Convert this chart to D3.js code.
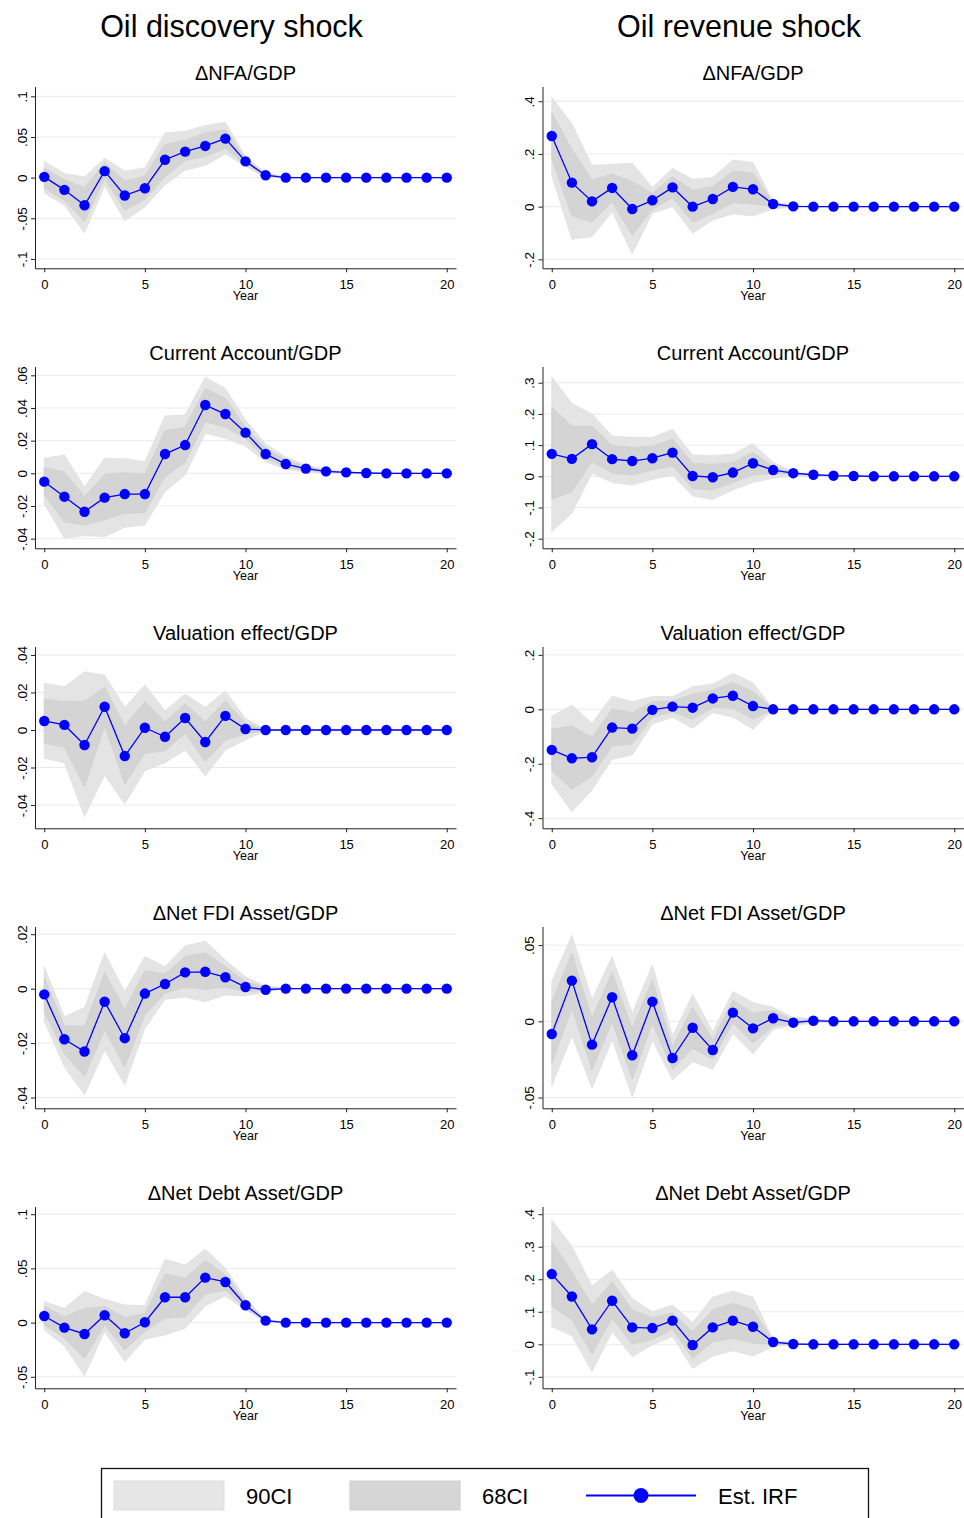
<!DOCTYPE html>
<html>
<head>
<meta charset="utf-8">
<script src="https://cdn.jsdelivr.net/npm/d3@7"></script>
<style>
  body { margin: 0; background: #fff; }
  svg { display: block; }
  text { font-family: "Liberation Sans", Arial, sans-serif; fill: #000; }
</style>
</head>
<body>
<svg id="chart" width="964" height="1518"></svg>
<script>
// ---------- data ----------
const years = [0, 1, 2, 3, 4, 5, 6, 7, 8, 9, 10, 11, 12, 13, 14, 15, 16, 17, 18, 19, 20];
const xTicks = [0, 5, 10, 15, 20];
const columnTitles = ["Oil discovery shock", "Oil revenue shock"];

// Oil discovery shock: ΔNFA/GDP
const discNfaTicks = [-0.1, -0.05, 0, 0.05, 0.1];
const discNfaDomain = [-0.1115, 0.1121];
const discNfaIrf = [0.001, -0.015, -0.034, 0.008, -0.022, -0.013, 0.022, 0.032, 0.039, 0.048, 0.020, 0.003, 0, 0, 0, 0, 0, 0, 0, 0, 0];
const discNfaHi90 = [0.020, 0.005, 0.001, 0.024, 0.008, 0.012, 0.055, 0.057, 0.064, 0.068, 0.026, 0.006, 0.001, 0, 0, 0, 0, 0, 0, 0, 0];
const discNfaLo90 = [-0.019, -0.034, -0.068, -0.010, -0.053, -0.036, -0.009, 0.009, 0.015, 0.029, 0.014, 0, -0.0004, 0, 0, 0, 0, 0, 0, 0, 0];
const discNfaHi68 = [0.012, -0.003, -0.012, 0.018, -0.004, 0.002, 0.041, 0.046, 0.055, 0.059, 0.023, 0.004, 0.0005, 0, 0, 0, 0, 0, 0, 0, 0];
const discNfaLo68 = [-0.013, -0.028, -0.054, -0.001, -0.040, -0.027, 0.001, 0.021, 0.026, 0.036, 0.016, 0.001, -0.0002, 0, 0, 0, 0, 0, 0, 0, 0];

// Oil revenue shock: ΔNFA/GDP
const revNfaTicks = [-0.2, 0, 0.2, 0.4];
const revNfaDomain = [-0.234, 0.456];
const revNfaIrf = [0.268, 0.091, 0.020, 0.071, -0.009, 0.024, 0.073, 0.000, 0.029, 0.075, 0.066, 0.010, 0.001, 0, 0, 0, 0, 0, 0, 0, 0];
const revNfaHi90 = [0.415, 0.316, 0.157, 0.161, 0.165, 0.073, 0.146, 0.104, 0.111, 0.177, 0.168, 0.019, 0.005, 0.001, 0, 0, 0, 0, 0, 0, 0];
const revNfaLo90 = [0.116, -0.124, -0.114, -0.019, -0.180, -0.025, 0.000, -0.101, -0.051, -0.028, -0.035, -0.009, -0.001, 0, 0, 0, 0, 0, 0, 0, 0];
const revNfaHi68 = [0.357, 0.218, 0.101, 0.124, 0.095, 0.051, 0.114, 0.061, 0.076, 0.135, 0.127, 0.015, 0.002, 0, 0, 0, 0, 0, 0, 0, 0];
const revNfaLo68 = [0.180, -0.035, -0.059, 0.019, -0.109, -0.010, 0.034, -0.059, -0.025, 0.015, 0.010, 0.000, 0, 0, 0, 0, 0, 0, 0, 0, 0];

// Oil discovery shock: Current Account/GDP
const discCaTicks = [-0.04, -0.02, 0, 0.02, 0.04, 0.06];
const discCaDomain = [-0.0459, 0.0654];
const discCaIrf = [-0.0051, -0.0143, -0.0235, -0.0149, -0.0127, -0.0127, 0.0118, 0.0173, 0.0418, 0.0363, 0.0249, 0.0118, 0.0057, 0.0029, 0.0012, 0.0006, 0.0002, 0, 0, 0, 0];
const discCaHi90 = [0.0092, 0.0112, -0.0082, 0.0092, 0.0090, 0.0071, 0.0351, 0.0357, 0.0588, 0.0520, 0.0327, 0.0180, 0.0102, 0.0051, 0.0024, 0.0010, 0.0004, 0.0001, 0, 0, 0];
const discCaLo90 = [-0.0188, -0.0398, -0.0382, -0.0388, -0.0331, -0.0316, -0.0112, -0.0010, 0.0245, 0.0214, 0.0167, 0.0071, 0.0024, 0.0008, 0.0002, 0.0001, 0, 0, 0, 0, 0];
const discCaHi68 = [0.0035, 0.0010, -0.0143, -0.0006, 0.0004, -0.0004, 0.0261, 0.0282, 0.0520, 0.0459, 0.0282, 0.0153, 0.0082, 0.0041, 0.0016, 0.0008, 0.0003, 0, 0, 0, 0];
const discCaLo68 = [-0.0133, -0.0296, -0.0316, -0.0286, -0.0245, -0.0241, -0.0020, 0.0067, 0.0316, 0.0282, 0.0214, 0.0092, 0.0037, 0.0016, 0.0006, 0.0003, 0.0001, 0, 0, 0, 0];

// Oil revenue shock: Current Account/GDP
const revCaTicks = [-0.2, -0.1, 0, 0.1, 0.2, 0.3];
const revCaDomain = [-0.2308, 0.352];
const revCaIrf = [0.072, 0.056, 0.103, 0.055, 0.049, 0.058, 0.076, 0.001, -0.003, 0.012, 0.042, 0.020, 0.010, 0.005, 0.002, 0.001, 0, 0, 0, 0, 0];
const revCaHi90 = [0.319, 0.234, 0.200, 0.129, 0.125, 0.125, 0.151, 0.068, 0.067, 0.071, 0.104, 0.045, 0.015, 0.005, 0.002, 0.001, 0, 0, 0, 0, 0];
const revCaLo90 = [-0.177, -0.119, 0.010, -0.020, -0.028, -0.010, 0.004, -0.063, -0.074, -0.044, -0.020, -0.006, -0.001, 0, 0, 0, 0, 0, 0, 0, 0];
const revCaHi68 = [0.221, 0.161, 0.161, 0.099, 0.093, 0.097, 0.120, 0.041, 0.039, 0.044, 0.077, 0.031, 0.012, 0.005, 0.002, 0.001, 0, 0, 0, 0, 0];
const revCaLo68 = [-0.074, -0.049, 0.047, 0.010, 0.004, 0.020, 0.033, -0.039, -0.044, -0.020, 0.004, 0.008, 0.006, 0.003, 0.001, 0, 0, 0, 0, 0, 0];

// Oil discovery shock: Valuation effect/GDP
const discValTicks = [-0.04, -0.02, 0, 0.02, 0.04];
const discValDomain = [-0.0524, 0.0445];
const discValIrf = [0.0048, 0.0027, -0.0080, 0.0124, -0.0139, 0.0012, -0.0036, 0.0064, -0.0064, 0.0075, 0.0005, 0, 0, 0, 0, 0, 0, 0, 0, 0, 0];
const discValHi90 = [0.0249, 0.0231, 0.0311, 0.0293, 0.0121, 0.0240, 0.0103, 0.0192, 0.0121, 0.0208, 0.0062, 0.0004, 0, 0, 0, 0, 0, 0, 0, 0, 0];
const discValLo90 = [-0.0151, -0.0174, -0.0462, -0.0240, -0.0395, -0.0217, -0.0174, -0.0107, -0.0245, -0.0107, -0.0053, -0.0005, 0, 0, 0, 0, 0, 0, 0, 0, 0];
const discValHi68 = [0.0165, 0.0151, 0.0155, 0.0228, 0.0021, 0.0151, 0.0044, 0.0139, 0.0044, 0.0156, 0.0036, 0.0002, 0, 0, 0, 0, 0, 0, 0, 0, 0];
const discValLo68 = [-0.0071, -0.0092, -0.0302, 0.0021, -0.0288, -0.0124, -0.0112, -0.0018, -0.0169, -0.0053, -0.0023, -0.0002, 0, 0, 0, 0, 0, 0, 0, 0, 0];

// Oil revenue shock: Valuation effect/GDP
const revValTicks = [-0.4, -0.2, 0, 0.2];
const revValDomain = [-0.4371, 0.2308];
const revValIrf = [-0.149, -0.180, -0.176, -0.067, -0.071, -0.002, 0.010, 0.006, 0.040, 0.050, 0.012, 0, 0, 0, 0, 0, 0, 0, 0, 0, 0];
const revValHi90 = [-0.025, 0.016, -0.051, 0.049, 0.028, 0.047, 0.047, 0.083, 0.093, 0.132, 0.098, 0.002, 0, 0, 0, 0, 0, 0, 0, 0, 0];
const revValLo90 = [-0.274, -0.376, -0.296, -0.184, -0.168, -0.054, -0.029, -0.070, -0.012, -0.029, -0.073, -0.001, 0, 0, 0, 0, 0, 0, 0, 0, 0];
const revValHi68 = [-0.073, -0.061, -0.103, 0.001, -0.012, 0.028, 0.031, 0.056, 0.071, 0.099, 0.065, 0.001, 0, 0, 0, 0, 0, 0, 0, 0, 0];
const revValLo68 = [-0.225, -0.294, -0.245, -0.135, -0.127, -0.029, -0.009, -0.037, 0.007, 0.004, -0.037, 0, 0, 0, 0, 0, 0, 0, 0, 0, 0];

// Oil discovery shock: ΔNet FDI Asset/GDP
const discFdiTicks = [-0.04, -0.02, 0, 0.02];
const discFdiDomain = [-0.04396, 0.02284];
const discFdiIrf = [-0.0021, -0.0186, -0.0231, -0.0048, -0.0182, -0.0018, 0.0017, 0.0060, 0.0062, 0.0042, 0.0006, -0.0004, 0, 0, 0, 0, 0, 0, 0, 0, 0];
const discFdiHi90 = [0.0081, -0.0103, -0.0069, 0.0132, -0.0011, 0.0118, 0.0081, 0.0157, 0.0175, 0.0105, 0.0044, 0.0010, 0.0002, 0, 0, 0, 0, 0, 0, 0, 0];
const discFdiLo90 = [-0.0121, -0.0287, -0.0390, -0.0225, -0.0354, -0.0146, -0.0039, -0.0032, -0.0048, -0.0023, -0.0027, -0.0011, -0.0002, 0, 0, 0, 0, 0, 0, 0, 0];
const discFdiHi68 = [0.0042, -0.0137, -0.0137, 0.0059, -0.0076, 0.0066, 0.0054, 0.0118, 0.0132, 0.0081, 0.0026, 0.0005, 0.0001, 0, 0, 0, 0, 0, 0, 0, 0];
const discFdiLo68 = [-0.0084, -0.0238, -0.0323, -0.0152, -0.0287, -0.0097, -0.0017, 0.0005, -0.0002, 0.0005, -0.0011, -0.0005, -0.0001, 0, 0, 0, 0, 0, 0, 0, 0];

// Oil revenue shock: ΔNet FDI Asset/GDP
const revFdiTicks = [-0.05, 0, 0.05];
const revFdiDomain = [-0.0571, 0.06225];
const revFdiIrf = [-0.0083, 0.0267, -0.0153, 0.0158, -0.0223, 0.0129, -0.0241, -0.0042, -0.0188, 0.0057, -0.0046, 0.0020, -0.0009, 0.0004, 0, 0, 0, 0, 0, 0, 0];
const revFdiHi90 = [0.0260, 0.0567, 0.0144, 0.0425, 0.0053, 0.0370, -0.0096, 0.0177, -0.0068, 0.0195, 0.0123, 0.0092, 0.0026, 0.0020, 0.0002, 0, 0, 0, 0, 0, 0];
const revFdiLo90 = [-0.0425, -0.0096, -0.0440, -0.0123, -0.0495, -0.0123, -0.0385, -0.0265, -0.0315, -0.0079, -0.0214, -0.0053, -0.0026, -0.0013, -0.0004, 0, 0, 0, 0, 0, 0];
const revFdiHi68 = [0.0129, 0.0446, 0.0020, 0.0319, -0.0046, 0.0271, -0.0166, 0.0092, -0.0123, 0.0140, 0.0053, 0.0070, 0.0009, 0.0009, 0.0001, 0, 0, 0, 0, 0, 0];
const revFdiLo68 = [-0.0280, 0.0085, -0.0320, -0.0002, -0.0381, -0.0013, -0.0315, -0.0177, -0.0249, -0.0009, -0.0144, -0.0031, -0.0018, -0.0004, -0.0001, 0, 0, 0, 0, 0, 0];

// Oil discovery shock: ΔNet Debt Asset/GDP
const discDebtTicks = [-0.05, 0, 0.05, 0.1];
const discDebtDomain = [-0.0606, 0.1071];
const discDebtIrf = [0.0061, -0.0046, -0.0105, 0.0068, -0.0098, 0.0003, 0.0234, 0.0234, 0.0415, 0.0375, 0.0160, 0.0018, 0, 0, 0, 0, 0, 0, 0, 0, 0];
const discDebtHi90 = [0.0194, 0.0132, 0.0286, 0.0215, 0.0163, 0.0157, 0.0584, 0.0532, 0.0679, 0.0501, 0.0224, 0.0031, 0.0003, 0, 0, 0, 0, 0, 0, 0, 0];
const discDebtLo90 = [-0.0068, -0.0215, -0.0492, -0.0083, -0.0360, -0.0154, -0.0114, -0.0052, 0.0154, 0.0246, 0.0117, 0.0003, -0.0002, 0, 0, 0, 0, 0, 0, 0, 0];
const discDebtHi68 = [0.0148, 0.0055, 0.0132, 0.0148, 0.0049, 0.0086, 0.0449, 0.0409, 0.0572, 0.0440, 0.0194, 0.0025, 0.0001, 0, 0, 0, 0, 0, 0, 0, 0];
const discDebtLo68 = [-0.0022, -0.0144, -0.0329, -0.0022, -0.0252, -0.0083, 0.0040, 0.0055, 0.0261, 0.0301, 0.0132, 0.0012, 0, 0, 0, 0, 0, 0, 0, 0, 0];

// Oil revenue shock: ΔNet Debt Asset/GDP
const revDebtTicks = [-0.1, 0, 0.1, 0.2, 0.3, 0.4];
const revDebtDomain = [-0.1352, 0.4237];
const revDebtIrf = [0.216, 0.147, 0.046, 0.134, 0.052, 0.050, 0.073, -0.002, 0.052, 0.073, 0.054, 0.007, 0.001, 0, 0, 0, 0, 0, 0, 0, 0];
const revDebtHi90 = [0.382, 0.302, 0.179, 0.228, 0.141, 0.100, 0.121, 0.067, 0.145, 0.164, 0.145, 0.015, 0.003, 0.001, 0, 0, 0, 0, 0, 0, 0];
const revDebtLo90 = [0.054, 0.026, -0.084, 0.039, -0.038, -0.002, 0.024, -0.074, -0.036, -0.020, -0.036, -0.007, -0.001, 0, 0, 0, 0, 0, 0, 0, 0];
const revDebtHi68 = [0.316, 0.223, 0.121, 0.193, 0.106, 0.082, 0.097, 0.039, 0.106, 0.126, 0.106, 0.011, 0.002, 0, 0, 0, 0, 0, 0, 0, 0];
const revDebtLo68 = [0.118, 0.075, -0.030, 0.080, 0.000, 0.015, 0.046, -0.043, 0.008, 0.018, 0.003, 0, -0.001, 0, 0, 0, 0, 0, 0, 0, 0];

const legendLabels = ["90CI", "68CI", "Est. IRF"];

// ---------- panel table ----------
const panels = [
  { col: 0, row: 0, title: "ΔNFA/GDP", ticks: discNfaTicks, domain: discNfaDomain, irf: discNfaIrf, hi90: discNfaHi90, lo90: discNfaLo90, hi68: discNfaHi68, lo68: discNfaLo68 },
  { col: 1, row: 0, title: "ΔNFA/GDP", ticks: revNfaTicks, domain: revNfaDomain, irf: revNfaIrf, hi90: revNfaHi90, lo90: revNfaLo90, hi68: revNfaHi68, lo68: revNfaLo68 },
  { col: 0, row: 1, title: "Current Account/GDP", ticks: discCaTicks, domain: discCaDomain, irf: discCaIrf, hi90: discCaHi90, lo90: discCaLo90, hi68: discCaHi68, lo68: discCaLo68 },
  { col: 1, row: 1, title: "Current Account/GDP", ticks: revCaTicks, domain: revCaDomain, irf: revCaIrf, hi90: revCaHi90, lo90: revCaLo90, hi68: revCaHi68, lo68: revCaLo68 },
  { col: 0, row: 2, title: "Valuation effect/GDP", ticks: discValTicks, domain: discValDomain, irf: discValIrf, hi90: discValHi90, lo90: discValLo90, hi68: discValHi68, lo68: discValLo68 },
  { col: 1, row: 2, title: "Valuation effect/GDP", ticks: revValTicks, domain: revValDomain, irf: revValIrf, hi90: revValHi90, lo90: revValLo90, hi68: revValHi68, lo68: revValLo68 },
  { col: 0, row: 3, title: "ΔNet FDI Asset/GDP", ticks: discFdiTicks, domain: discFdiDomain, irf: discFdiIrf, hi90: discFdiHi90, lo90: discFdiLo90, hi68: discFdiHi68, lo68: discFdiLo68 },
  { col: 1, row: 3, title: "ΔNet FDI Asset/GDP", ticks: revFdiTicks, domain: revFdiDomain, irf: revFdiIrf, hi90: revFdiHi90, lo90: revFdiLo90, hi68: revFdiHi68, lo68: revFdiLo68 },
  { col: 0, row: 4, title: "ΔNet Debt Asset/GDP", ticks: discDebtTicks, domain: discDebtDomain, irf: discDebtIrf, hi90: discDebtHi90, lo90: discDebtLo90, hi68: discDebtHi68, lo68: discDebtLo68 },
  { col: 1, row: 4, title: "ΔNet Debt Asset/GDP", ticks: revDebtTicks, domain: revDebtDomain, irf: revDebtIrf, hi90: revDebtHi90, lo90: revDebtLo90, hi68: revDebtHi68, lo68: revDebtLo68 },
];

// ---------- layout ----------
const colLeft = [35, 542.5];
const colRight = [456, 963.5];
const rowStep = 280;
const plotTop = 86.5;
const plotBottom = 268.3;
const blue = "#0000ff";
const fill90 = "#e4e4e4";
const fill68 = "#d4d4d4";

const svg = d3.select("#chart");

// stata-like number labels: .05, -.1, 0
const stataFmt = (v) => String(v).replace(/^(-?)0\./, "$1.");

// column headers
svg.selectAll("text.header")
  .data(columnTitles)
  .enter()
  .append("text")
  .attr("class", "header")
  .attr("x", (d, i) => (colLeft[i] + colRight[i]) / 2 - 14)
  .attr("y", 37)
  .attr("text-anchor", "middle")
  .style("font-size", "30.5px")
  .text((d) => d);

panels.forEach((p) => {
  const top = plotTop + p.row * rowStep;
  const bottom = plotBottom + p.row * rowStep;
  const left = colLeft[p.col];
  const right = colRight[p.col];

  const x = d3.scaleLinear().domain([-0.46, 20.46]).range([left, right]);
  const y = d3.scaleLinear().domain(p.domain).range([bottom, top]);

  const g = svg.append("g");

  // title
  g.append("text")
    .attr("x", (left + right) / 2)
    .attr("y", top - 7)
    .attr("text-anchor", "middle")
    .style("font-size", "20px")
    .text(p.title);

  // gridlines
  g.selectAll("line.grid")
    .data(p.ticks)
    .enter()
    .append("line")
    .attr("x1", left)
    .attr("x2", right)
    .attr("y1", (d) => y(d))
    .attr("y2", (d) => y(d))
    .attr("stroke", "#eaeaea")
    .attr("stroke-width", 1);

  // confidence bands
  const band = (lo, hi) =>
    d3.area()
      .x((d, i) => x(years[i]))
      .y0((d, i) => y(lo[i]))
      .y1((d, i) => y(hi[i]));

  g.append("path")
    .datum(years)
    .attr("d", band(p.lo90, p.hi90))
    .attr("fill", fill90)
    .attr("stroke", "#dcdcdc")
    .attr("stroke-width", 0.6);

  g.append("path")
    .datum(years)
    .attr("d", band(p.lo68, p.hi68))
    .attr("fill", fill68)
    .attr("stroke", "#cccccc")
    .attr("stroke-width", 0.6);

  // IRF line + markers
  g.append("path")
    .datum(years)
    .attr("d", d3.line().x((d, i) => x(years[i])).y((d, i) => y(p.irf[i])))
    .attr("fill", "none")
    .attr("stroke", blue)
    .attr("stroke-width", 1.3);

  g.selectAll("circle")
    .data(years)
    .enter()
    .append("circle")
    .attr("cx", (d) => x(d))
    .attr("cy", (d, i) => y(p.irf[i]))
    .attr("r", 5.2)
    .attr("fill", blue);

  // y axis
  const yAxis = g.append("g")
    .attr("transform", `translate(${left},0)`)
    .call(d3.axisLeft(y).tickValues(p.ticks).tickFormat(stataFmt).tickSize(4).tickSizeOuter(0));
  yAxis.select(".domain").attr("stroke", "#222");
  yAxis.selectAll(".tick line").attr("stroke", "#222");
  yAxis.selectAll(".tick text")
    .attr("transform", "rotate(-90)")
    .attr("x", 0)
    .attr("y", -8.5)
    .attr("dy", null)
    .attr("text-anchor", "middle")
    .style("font-family", "'Liberation Sans', Arial, sans-serif")
    .style("font-size", "13.5px");

  // x axis
  const xAxis = g.append("g")
    .attr("transform", `translate(0,${bottom})`)
    .call(d3.axisBottom(x).tickValues(xTicks).tickSize(4).tickSizeOuter(0));
  xAxis.select(".domain").attr("stroke", "#222");
  xAxis.selectAll(".tick line").attr("stroke", "#222");
  xAxis.selectAll(".tick text")
    .attr("y", 20.8)
    .attr("dy", null)
    .style("font-family", "'Liberation Sans', Arial, sans-serif")
    .style("font-size", "13px");

  g.append("text")
    .attr("x", (left + right) / 2)
    .attr("y", bottom + 31.8)
    .attr("text-anchor", "middle")
    .style("font-size", "12.5px")
    .text("Year");
});

// ---------- legend ----------
const legend = svg.append("g");
legend.append("rect")
  .attr("x", 101.5)
  .attr("y", 1468.5)
  .attr("width", 767)
  .attr("height", 60)
  .attr("fill", "none")
  .attr("stroke", "#111")
  .attr("stroke-width", 1.3);

legend.append("rect")
  .attr("x", 114).attr("y", 1481).attr("width", 110).attr("height", 29)
  .attr("fill", "#e6e6e6").attr("stroke", "#dddddd");
legend.append("rect")
  .attr("x", 350).attr("y", 1481).attr("width", 110).attr("height", 29)
  .attr("fill", "#d6d6d6").attr("stroke", "#cdcdcd");
legend.append("line")
  .attr("x1", 586).attr("x2", 696).attr("y1", 1495.5).attr("y2", 1495.5)
  .attr("stroke", blue).attr("stroke-width", 2);
legend.append("circle")
  .attr("cx", 641).attr("cy", 1495.5).attr("r", 7.5).attr("fill", blue);

legend.selectAll("text")
  .data(legendLabels)
  .enter()
  .append("text")
  .attr("x", (d, i) => [246, 482, 718][i])
  .attr("y", 1504)
  .style("font-size", "22px")
  .text((d) => d);
</script>
</body>
</html>
